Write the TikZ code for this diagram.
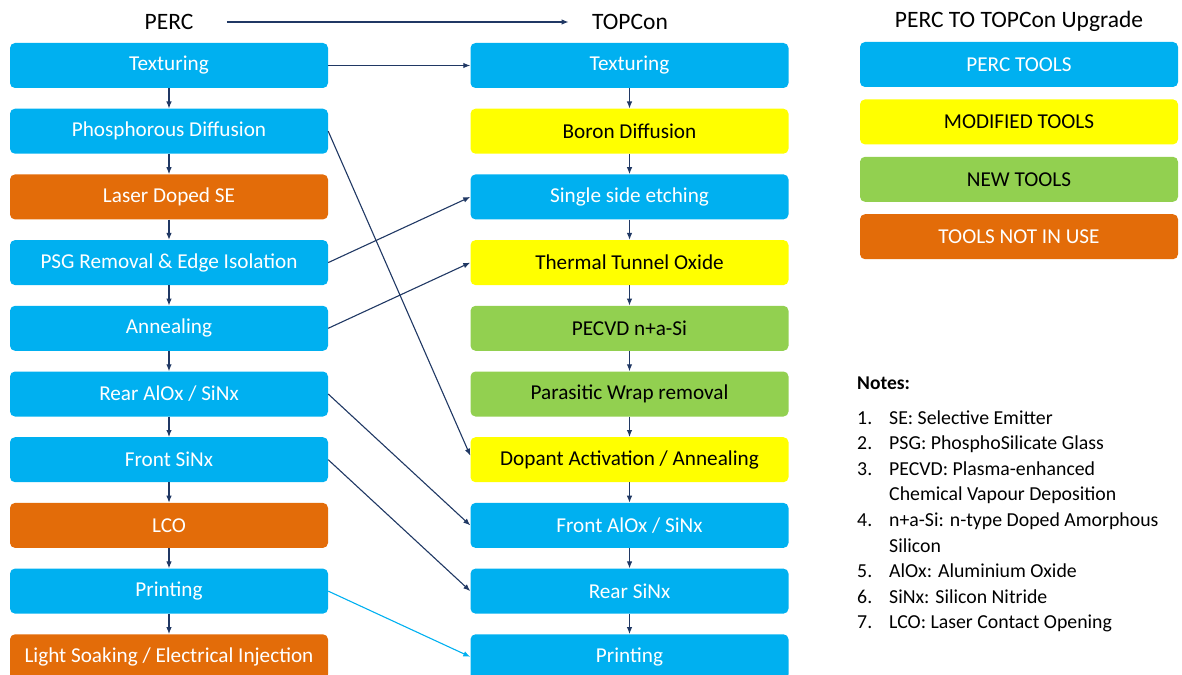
\documentclass[tikz,border=0pt]{standalone}
\usepackage{fontspec}
\setmainfont{Carlito}
\usetikzlibrary{positioning,arrows.meta}
\definecolor{percblue}{HTML}{00B0F0}
\definecolor{modyellow}{HTML}{FFFF00}
\definecolor{newgreen}{HTML}{92D050}
\definecolor{offorange}{HTML}{E36C09}
\definecolor{navy}{HTML}{203864}

\begin{document}
\begin{tikzpicture}[x=1pt, y=-1pt, >={Latex[length=7pt,width=5.5pt]}, font=\fontsize{21.2}{25}\selectfont, node distance=20.3pt,
    tool/.style={rounded corners=5pt, minimum width=318pt, minimum height=45pt, inner sep=0pt},
    perctool/.style={tool, fill=percblue, text=white},
    modtool/.style={tool, fill=modyellow, text=black},
    newtool/.style={tool, fill=newgreen, text=black},
    offtool/.style={tool, fill=offorange, text=white},
    flow/.style={->, line width=1.1pt, navy}]
    \useasboundingbox (0,0) rectangle (1182,674);

    % headings
    \node[font=\fontsize{23.5}{28}\selectfont] (hPerc) at (169,22) {PERC};
    \node[font=\fontsize{23.5}{28}\selectfont] (hTop) at (630,22) {TOPCon};
    \draw[flow, shorten <=30pt, shorten >=20pt] (hPerc) -- (hTop);

    % PERC line
    \node[perctool] (pTex) at (169,65.5) {Texturing};
    \node[perctool, below=of pTex] (pPhos) {Phosphorous Diffusion};
    \node[offtool, below=of pPhos] (pLaser) {Laser Doped SE};
    \node[perctool, below=of pLaser] (pPsg) {PSG Removal \& Edge Isolation};
    \node[perctool, below=of pPsg] (pAnn) {Annealing};
    \node[perctool, below=of pAnn] (pRear) {Rear AlOx / SiNx};
    \node[perctool, below=of pRear] (pFront) {Front SiNx};
    \node[offtool, below=of pFront] (pLco) {LCO};
    \node[perctool, below=of pLco] (pPrint) {Printing};
    \node[offtool, below=of pPrint] (pSoak) {Light Soaking / Electrical Injection};

    % TOPCon line
    \node[perctool] (tTex) at (629.5,65.5) {Texturing};
    \node[modtool, below=of tTex] (tBor) {Boron Diffusion};
    \node[perctool, below=of tBor] (tEtch) {Single side etching};
    \node[modtool, below=of tEtch] (tOx) {Thermal Tunnel Oxide};
    \node[newtool, below=of tOx] (tPecvd) {PECVD n+a-Si};
    \node[newtool, below=of tPecvd] (tWrap) {Parasitic Wrap removal};
    \node[modtool, below=of tWrap] (tDop) {Dopant Activation / Annealing};
    \node[perctool, below=of tDop] (tFront) {Front AlOx / SiNx};
    \node[perctool, below=of tFront] (tRear) {Rear SiNx};
    \node[perctool, below=of tRear] (tPrint) {Printing};

    \foreach \a/\b in {pTex/pPhos, pPhos/pLaser, pLaser/pPsg, pPsg/pAnn, pAnn/pRear, pRear/pFront,
        pFront/pLco, pLco/pPrint, pPrint/pSoak, tTex/tBor, tBor/tEtch, tEtch/tOx, tOx/tPecvd,
        tPecvd/tWrap, tWrap/tDop, tDop/tFront, tFront/tRear, tRear/tPrint}
      \draw[flow] (\a) -- (\b);

    % tools carried over
    \draw[flow] (pTex.east) -- (tTex.west);
    \draw[flow] (pPhos.east) -- ([yshift=4pt]tDop.west);
    \draw[flow] (pPsg.east) -- (tEtch.west);
    \draw[flow] (pAnn.east) -- (tOx.west);
    \draw[flow] (pRear.east) -- (tFront.west);
    \draw[flow] (pFront.east) -- (tRear.west);
    \draw[flow, percblue] (pPrint.east) -- (tPrint.west);

    % legend
    \node[font=\fontsize{23.5}{28}\selectfont] (lgTitle) at (1019,21) {PERC TO TOPCon Upgrade};
    \node[perctool] (lgPerc) at (1019,64.5) {PERC TOOLS};
    \node[modtool, below=12pt of lgPerc] (lgMod) {MODIFIED TOOLS};
    \node[newtool, below=12pt of lgMod] (lgNew) {NEW TOOLS};
    \node[offtool, below=12pt of lgNew] (lgOff) {TOOLS NOT IN USE};

    % notes
    \node[anchor=west, inner sep=0pt, font=\bfseries\fontsize{19.5}{23}\selectfont] (notesHead) at (857,383) {Notes:};
    \node[anchor=north west, inner sep=0pt, font=\fontsize{19.8}{25.6}\selectfont] (notes) at (857,406)
      {\begin{tabular}{@{}p{32pt}@{}l@{}}
        1. & SE: Selective Emitter\\
        2. & PSG: PhosphoSilicate Glass\\
        3. & PECVD: Plasma-enhanced\\
           & Chemical Vapour Deposition\\
        4. & n+a-Si: n-type Doped Amorphous\\
           & Silicon\\
        5. & AlOx: Aluminium Oxide\\
        6. & SiNx: Silicon Nitride\\
        7. & LCO: Laser Contact Opening
      \end{tabular}};
  \end{tikzpicture}
\end{document}
